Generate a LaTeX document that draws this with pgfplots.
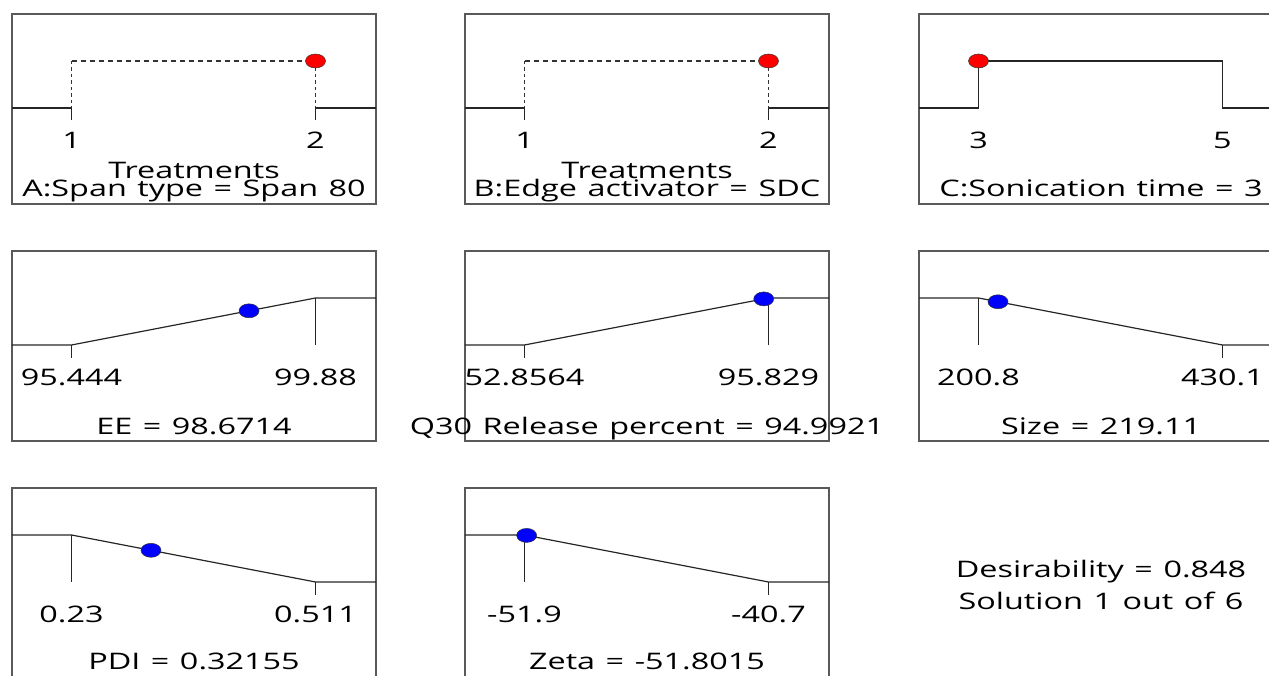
\documentclass[border=0pt]{standalone}
\usepackage{pgfplots}
\pgfplotsset{compat=1.18}
\usepackage{fontspec}
\setmainfont{Open Sans}[FakeStretch=1.42,WordSpace=1.25]
\pgfplotsset{
  panel/.style={width=364pt,height=190pt,scale only axis,anchor=south west,
    ymin=-2.043,ymax=2.0,xtick=\empty,ytick=\empty,clip=false,
    axis line style={line width=1.5pt,black!65}},
  ramp/.style={no marks,line width=1.2pt,black!85},
  dashh/.style={no marks,line width=1.2pt,black!80,dash pattern=on 5pt off 4pt},
  dashv/.style={no marks,line width=1.2pt,black!80,dash pattern=on 3.5pt off 3pt},
  redpt/.style={only marks,mark=*,mark size=7pt,mark options={xscale=1.43,fill=red,draw=black!80,line width=0.5pt}},
  bluept/.style={only marks,mark=*,mark size=7pt,mark options={xscale=1.43,fill=blue,draw=black!80,line width=0.5pt}},
}
\begin{document}
\begin{tikzpicture}[x=1pt,y=1pt,font=\fontsize{22.8pt}{26pt}\selectfont]
\useasboundingbox (0,0) rectangle (1269,675);
\clip (0,0) rectangle (1269,675);

% ---------- A: Span type
\begin{axis}[panel,at={(12pt,471pt)},xmin=0.7561,xmax=2.248]
\addplot[ramp] coordinates {(0.7561,0) (1,0)};
\addplot[ramp] coordinates {(2,0) (2.248,0)};
\addplot[dashh] coordinates {(1,1) (2,1)};
\addplot[dashv] coordinates {(1,1) (1,0)};
\addplot[dashv] coordinates {(2,1) (2,0)};
\addplot[ramp] coordinates {(1,0) (1,-0.26)};
\addplot[ramp] coordinates {(2,0) (2,-0.26)};
\addplot[redpt] coordinates {(2,1)};
\node[anchor=base] at (axis cs:1,-0.86) {1};
\node[anchor=base] at (axis cs:2,-0.86) {2};
\node[anchor=base] at (axis description cs:0.5,0.132) {Treatments};
\node[anchor=base] at (axis description cs:0.5,0.038) {A:Span type = Span 80};
\end{axis}

% ---------- B: Edge activator
\begin{axis}[panel,at={(465pt,471pt)},xmin=0.7561,xmax=2.248]
\addplot[ramp] coordinates {(0.7561,0) (1,0)};
\addplot[ramp] coordinates {(2,0) (2.248,0)};
\addplot[dashh] coordinates {(1,1) (2,1)};
\addplot[dashv] coordinates {(1,1) (1,0)};
\addplot[dashv] coordinates {(2,1) (2,0)};
\addplot[ramp] coordinates {(1,0) (1,-0.26)};
\addplot[ramp] coordinates {(2,0) (2,-0.26)};
\addplot[redpt] coordinates {(2,1)};
\node[anchor=base] at (axis cs:1,-0.86) {1};
\node[anchor=base] at (axis cs:2,-0.86) {2};
\node[anchor=base] at (axis description cs:0.5,0.132) {Treatments};
\node[anchor=base] at (axis description cs:0.5,0.038) {B:Edge activator = SDC};
\end{axis}

% ---------- C: Sonication time
\begin{axis}[panel,at={(919pt,471pt)},xmin=2.5122,xmax=5.496]
\addplot[ramp] coordinates {(2.5122,0) (3,0) (3,1) (5,1) (5,0) (5.496,0)};
\addplot[redpt] coordinates {(3,1)};
\node[anchor=base] at (axis cs:3,-0.86) {3};
\node[anchor=base] at (axis cs:5,-0.86) {5};
\node[anchor=base] at (axis description cs:0.5,0.038) {C:Sonication time = 3};
\end{axis}

% ---------- EE
\begin{axis}[panel,at={(12pt,234pt)},xmin=94.362,xmax=100.980]
\addplot[ramp] coordinates {(94.362,0) (95.444,0) (99.88,1) (100.980,1)};
\addplot[ramp] coordinates {(95.444,0) (95.444,-0.28)};
\addplot[ramp] coordinates {(99.88,1) (99.88,0)};
\addplot[bluept] coordinates {(98.6714,0.7276)};
\node[anchor=base] at (axis cs:95.444,-0.86) {95.444};
\node[anchor=base] at (axis cs:99.88,-0.86) {99.88};
\node[anchor=base] at (axis description cs:0.5,0.035) {EE = 98.6714};
\end{axis}

% ---------- Q30
\begin{axis}[panel,at={(465pt,234pt)},xmin=42.375,xmax=106.486]
\addplot[ramp] coordinates {(42.375,0) (52.8564,0) (95.829,1) (106.486,1)};
\addplot[ramp] coordinates {(52.8564,0) (52.8564,-0.28)};
\addplot[ramp] coordinates {(95.829,1) (95.829,0)};
\addplot[bluept] coordinates {(94.9921,0.9805)};
\node[anchor=base] at (axis cs:52.8564,-0.86) {52.8564};
\node[anchor=base] at (axis cs:95.829,-0.86) {95.829};
\node[anchor=base] at (axis description cs:0.5,0.035) {Q30 Release percent = 94.9921};
\end{axis}

% ---------- Size
\begin{axis}[panel,at={(919pt,234pt)},xmin=144.874,xmax=486.966]
\addplot[ramp] coordinates {(144.874,1) (200.8,1) (430.1,0) (486.966,0)};
\addplot[ramp] coordinates {(200.8,1) (200.8,0)};
\addplot[ramp] coordinates {(430.1,0) (430.1,-0.28)};
\addplot[bluept] coordinates {(219.11,0.920)};
\node[anchor=base] at (axis cs:200.8,-0.86) {200.8};
\node[anchor=base] at (axis cs:430.1,-0.86) {430.1};
\node[anchor=base] at (axis description cs:0.5,0.035) {Size = 219.11};
\end{axis}

% ---------- PDI
\begin{axis}[panel,at={(12pt,-3pt)},xmin=0.16146,xmax=0.58069]
\addplot[ramp] coordinates {(0.16146,1) (0.23,1) (0.511,0) (0.58069,0)};
\addplot[ramp] coordinates {(0.23,1) (0.23,0)};
\addplot[ramp] coordinates {(0.511,0) (0.511,-0.28)};
\addplot[bluept] coordinates {(0.32155,0.674)};
\node[anchor=base] at (axis cs:0.23,-0.86) {0.23};
\node[anchor=base] at (axis cs:0.511,-0.86) {0.511};
\node[anchor=base] at (axis description cs:0.5,0.045) {PDI = 0.32155};
\end{axis}

% ---------- Zeta
\begin{axis}[panel,at={(465pt,-3pt)},xmin=-54.632,xmax=-37.922]
\addplot[ramp] coordinates {(-54.632,1) (-51.9,1) (-40.7,0) (-37.922,0)};
\addplot[ramp] coordinates {(-51.9,1) (-51.9,0)};
\addplot[ramp] coordinates {(-40.7,0) (-40.7,-0.28)};
\addplot[bluept] coordinates {(-51.8015,0.991)};
\node[anchor=base] at (axis cs:-51.9,-0.86) {-51.9};
\node[anchor=base] at (axis cs:-40.7,-0.86) {-40.7};
\node[anchor=base] at (axis description cs:0.5,0.045) {Zeta = -51.8015};
\end{axis}

% ---------- Desirability text
\node[anchor=base] at (1101,97) {Desirability = 0.848};
\node[anchor=base] at (1101,66) {Solution 1 out of 6};
\end{tikzpicture}
\end{document}
